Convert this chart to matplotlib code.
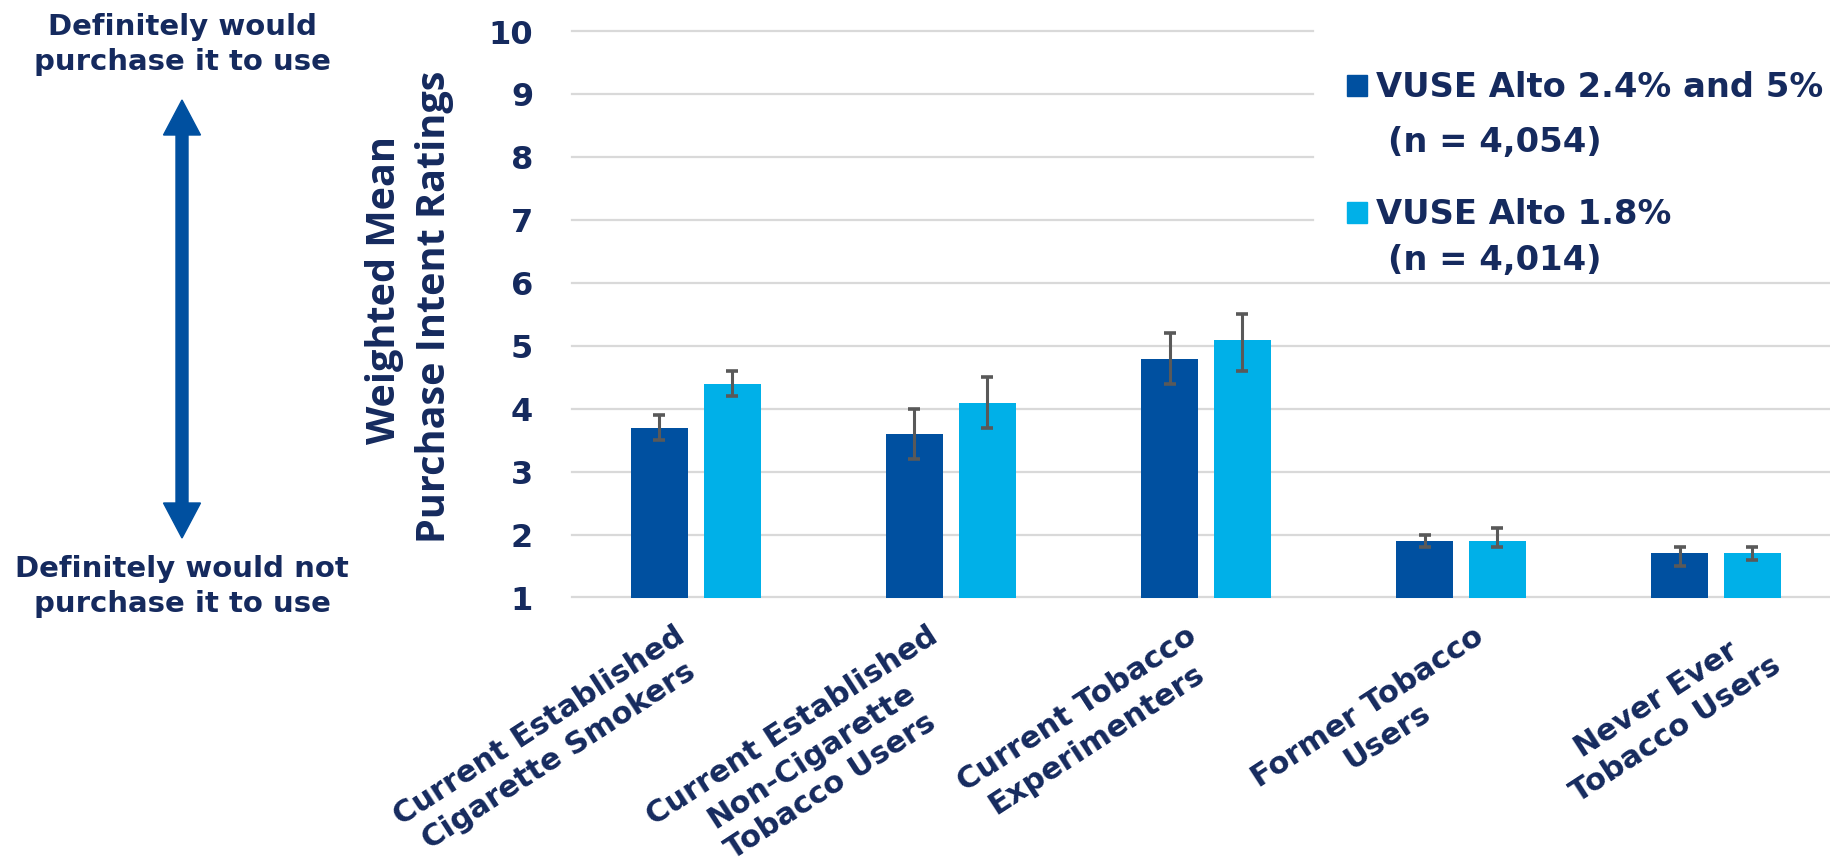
import matplotlib
matplotlib.use("Agg")
import matplotlib.pyplot as plt
import matplotlib.transforms as mtransforms
import numpy as np
from matplotlib.patches import Polygon, Rectangle

# data
groups = ["Current Established\nCigarette Smokers",
          "Current Established\nNon-Cigarette\nTobacco Users",
          "Current Tobacco\nExperimenters",
          "Former Tobacco\nUsers",
          "Never Ever\nTobacco Users"]
series = ["VUSE Alto 2.4% and 5%", "VUSE Alto 1.8%"]
n_labels = ["(n = 4,054)", "(n = 4,014)"]

mean_a = [3.7, 3.6, 4.8, 1.9, 1.7]
lo_a = [3.5, 3.2, 4.4, 1.8, 1.5]
hi_a = [3.9, 4.0, 5.2, 2.0, 1.8]

mean_b = [4.4, 4.1, 5.1, 1.9, 1.7]
lo_b = [4.2, 3.7, 4.6, 1.8, 1.6]
hi_b = [4.6, 4.5, 5.5, 2.1, 1.8]

yticks = list(range(1, 11))
top_label = "Definitely would\npurchase it to use"
bottom_label = "Definitely would not\npurchase it to use"
ylabel_lines = ["Weighted Mean", "Purchase Intent Ratings"]

navy = "#152A5E"
dark = "#0050A0"
light = "#00B0E8"
errc = "#595959"
gridc = "#D9D9D9"

W, H = 1830, 863
fig = plt.figure(figsize=(W / 100, H / 100), dpi=100)


def fx(x):
    return x / W


def fy(y):
    return 1 - y / H


# axes placed in pixel terms
ax_l, ax_r, ax_t, ax_b = 572, 1830, 31.5, 597.5
ax = fig.add_axes([fx(ax_l), fy(ax_b), fx(ax_r - ax_l), (ax_b - ax_t) / H])

x = np.arange(len(groups))
bw = 0.224
off = 0.143

for v in yticks:
    ax.axhline(v, xmin=0, xmax=0.589 if v >= 7 else 1, color=gridc, lw=1.6,
               zorder=0, clip_on=False)

ekw = dict(ecolor=errc, elinewidth=2.2, capsize=4.5, capthick=2.6)
ax.bar(x - off, mean_a, bw, color=dark, zorder=2,
       yerr=[np.subtract(mean_a, lo_a), np.subtract(hi_a, mean_a)], error_kw=ekw)
ax.bar(x + off, mean_b, bw, color=light, zorder=2,
       yerr=[np.subtract(mean_b, lo_b), np.subtract(hi_b, mean_b)], error_kw=ekw)

ax.set_ylim(1, 10)
ax.set_xlim(-0.486, 4.447)
ax.set_yticks(yticks)
ax.set_yticklabels([str(t) for t in yticks], fontsize=23, fontweight="bold", color=navy)
ax.tick_params(axis="y", length=0, pad=28)
ax.set_xticks(x)
ax.set_xticklabels(groups, rotation=33, ha="right", va="top", rotation_mode="anchor",
                   multialignment="center", fontsize=22, fontweight="bold", color=navy,
                   linespacing=1.3)
ax.tick_params(axis="x", length=0, pad=17)
# horizontal nudge of each rotated label (pixels), to sit like the source chart
label_dx = [-22, -24, -20, 12, 35]
for lab, dx in zip(ax.get_xticklabels(), label_dx):
    shift = mtransforms.ScaledTranslation(dx / 100, 0, fig.dpi_scale_trans)
    lab.set_transform(lab.get_transform() + shift)
for s in ax.spines.values():
    s.set_visible(False)

# y label, two lines set a little apart like the source
for line, xp, yp in zip(ylabel_lines, [385, 434], [290, 307]):
    fig.text(fx(xp), fy(yp), line, rotation=90, ha="center", va="center",
             fontsize=28.5, fontweight="bold", color=navy, family="Open Sans")

# legend drawn by hand so the swatch sits on the first line
leg_cols = [dark, light]
leg_base = [97, 224]
n_base = [152, 270]
for name, n, c, yb, nb in zip(series, n_labels, leg_cols, leg_base, n_base):
    fig.patches.append(Rectangle((fx(1347), fy(yb - 1)), fx(20), 21 / H, color=c,
                                 transform=fig.transFigure))
    fig.text(fx(1376), fy(yb), name, ha="left", va="baseline", fontsize=24.3,
             fontweight="bold", color=navy)
    fig.text(fx(1388), fy(nb), n, ha="left", va="baseline", fontsize=24.3,
             fontweight="bold", color=navy)

# double headed scale arrow on the left
cx, tip_t, tip_b, hl, hw, sw = 182, 100, 538, 35, 18.5, 6
pts = [(cx, tip_t), (cx + hw, tip_t + hl), (cx + sw, tip_t + hl), (cx + sw, tip_b - hl),
       (cx + hw, tip_b - hl), (cx, tip_b), (cx - hw, tip_b - hl), (cx - sw, tip_b - hl),
       (cx - sw, tip_t + hl), (cx - hw, tip_t + hl)]
fig.patches.append(Polygon([(fx(a), fy(b)) for a, b in pts], closed=True, color=dark,
                           transform=fig.transFigure))

# va="baseline" on multi-line text puts the last line on the given y
fig.text(fx(182), fy(70), top_label, ha="center", va="baseline", fontsize=21,
         fontweight="bold", color=navy, linespacing=1.3)
fig.text(fx(182), fy(612), bottom_label, ha="center", va="baseline", fontsize=21,
         fontweight="bold", color=navy, linespacing=1.3)

fig.savefig("out.png", dpi=100)
